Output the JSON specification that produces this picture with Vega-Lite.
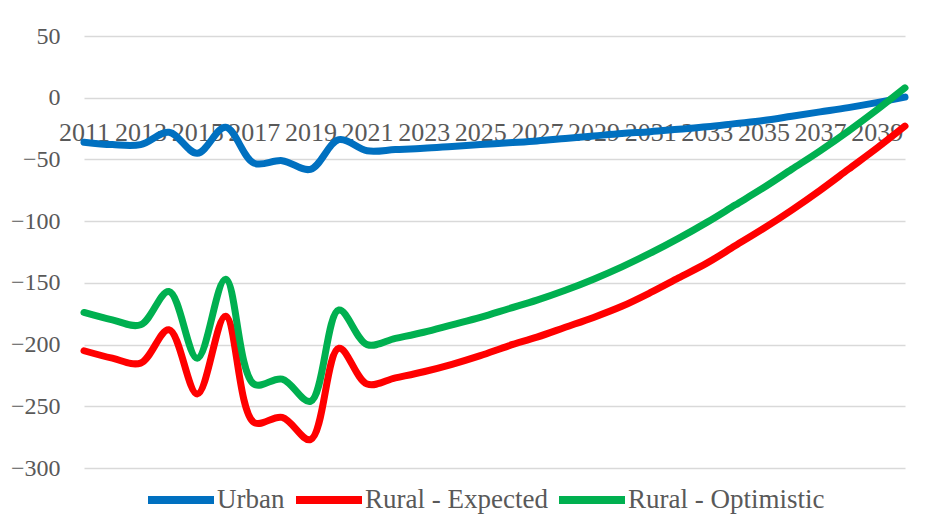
{
  "$schema": "https://vega.github.io/schema/vega-lite/v6.json",
  "width": 821,
  "height": 432,
  "autosize": {"type": "none"},
  "padding": {"left": 84, "top": 36, "right": 37, "bottom": 58},
  "background": "white",
  "config": {
    "view": {"stroke": null},
    "font": "Liberation Serif",
    "axis": {"labelFont": "Liberation Serif", "labelColor": "#595959"},
    "legend": {"labelFont": "Liberation Serif", "labelColor": "#595959"}
  },
  "data": {
    "values": [
      {"year": 2011, "series": "Urban", "value": -36},
      {"year": 2012, "series": "Urban", "value": -38},
      {"year": 2013, "series": "Urban", "value": -38},
      {"year": 2014, "series": "Urban", "value": -28},
      {"year": 2015, "series": "Urban", "value": -45},
      {"year": 2016, "series": "Urban", "value": -24},
      {"year": 2017, "series": "Urban", "value": -53},
      {"year": 2018, "series": "Urban", "value": -51},
      {"year": 2019, "series": "Urban", "value": -58},
      {"year": 2020, "series": "Urban", "value": -34},
      {"year": 2021, "series": "Urban", "value": -43},
      {"year": 2022, "series": "Urban", "value": -42},
      {"year": 2023, "series": "Urban", "value": -41},
      {"year": 2024, "series": "Urban", "value": -39.5},
      {"year": 2025, "series": "Urban", "value": -38},
      {"year": 2026, "series": "Urban", "value": -36.5},
      {"year": 2027, "series": "Urban", "value": -35},
      {"year": 2028, "series": "Urban", "value": -33},
      {"year": 2029, "series": "Urban", "value": -31},
      {"year": 2030, "series": "Urban", "value": -29},
      {"year": 2031, "series": "Urban", "value": -27.5},
      {"year": 2032, "series": "Urban", "value": -25.5},
      {"year": 2033, "series": "Urban", "value": -23.5},
      {"year": 2034, "series": "Urban", "value": -21},
      {"year": 2035, "series": "Urban", "value": -18.5},
      {"year": 2036, "series": "Urban", "value": -15},
      {"year": 2037, "series": "Urban", "value": -11.5},
      {"year": 2038, "series": "Urban", "value": -8},
      {"year": 2039, "series": "Urban", "value": -4},
      {"year": 2040, "series": "Urban", "value": 0.5},
      {"year": 2011, "series": "Rural - Expected", "value": -205},
      {"year": 2012, "series": "Rural - Expected", "value": -211},
      {"year": 2013, "series": "Rural - Expected", "value": -215},
      {"year": 2014, "series": "Rural - Expected", "value": -188},
      {"year": 2015, "series": "Rural - Expected", "value": -240},
      {"year": 2016, "series": "Rural - Expected", "value": -177},
      {"year": 2017, "series": "Rural - Expected", "value": -263},
      {"year": 2018, "series": "Rural - Expected", "value": -259},
      {"year": 2019, "series": "Rural - Expected", "value": -277},
      {"year": 2020, "series": "Rural - Expected", "value": -203},
      {"year": 2021, "series": "Rural - Expected", "value": -232},
      {"year": 2022, "series": "Rural - Expected", "value": -227},
      {"year": 2023, "series": "Rural - Expected", "value": -222},
      {"year": 2024, "series": "Rural - Expected", "value": -216},
      {"year": 2025, "series": "Rural - Expected", "value": -209},
      {"year": 2026, "series": "Rural - Expected", "value": -201},
      {"year": 2027, "series": "Rural - Expected", "value": -194},
      {"year": 2028, "series": "Rural - Expected", "value": -186},
      {"year": 2029, "series": "Rural - Expected", "value": -178},
      {"year": 2030, "series": "Rural - Expected", "value": -169},
      {"year": 2031, "series": "Rural - Expected", "value": -158},
      {"year": 2032, "series": "Rural - Expected", "value": -146},
      {"year": 2033, "series": "Rural - Expected", "value": -134},
      {"year": 2034, "series": "Rural - Expected", "value": -120},
      {"year": 2035, "series": "Rural - Expected", "value": -106},
      {"year": 2036, "series": "Rural - Expected", "value": -91},
      {"year": 2037, "series": "Rural - Expected", "value": -75},
      {"year": 2038, "series": "Rural - Expected", "value": -58},
      {"year": 2039, "series": "Rural - Expected", "value": -41},
      {"year": 2040, "series": "Rural - Expected", "value": -23},
      {"year": 2011, "series": "Rural - Optimistic", "value": -174},
      {"year": 2012, "series": "Rural - Optimistic", "value": -180},
      {"year": 2013, "series": "Rural - Optimistic", "value": -184},
      {"year": 2014, "series": "Rural - Optimistic", "value": -157},
      {"year": 2015, "series": "Rural - Optimistic", "value": -211},
      {"year": 2016, "series": "Rural - Optimistic", "value": -147},
      {"year": 2017, "series": "Rural - Optimistic", "value": -232},
      {"year": 2018, "series": "Rural - Optimistic", "value": -228},
      {"year": 2019, "series": "Rural - Optimistic", "value": -246},
      {"year": 2020, "series": "Rural - Optimistic", "value": -172},
      {"year": 2021, "series": "Rural - Optimistic", "value": -200},
      {"year": 2022, "series": "Rural - Optimistic", "value": -195},
      {"year": 2023, "series": "Rural - Optimistic", "value": -190},
      {"year": 2024, "series": "Rural - Optimistic", "value": -184},
      {"year": 2025, "series": "Rural - Optimistic", "value": -178},
      {"year": 2026, "series": "Rural - Optimistic", "value": -171},
      {"year": 2027, "series": "Rural - Optimistic", "value": -164},
      {"year": 2028, "series": "Rural - Optimistic", "value": -156},
      {"year": 2029, "series": "Rural - Optimistic", "value": -147},
      {"year": 2030, "series": "Rural - Optimistic", "value": -137},
      {"year": 2031, "series": "Rural - Optimistic", "value": -126},
      {"year": 2032, "series": "Rural - Optimistic", "value": -114},
      {"year": 2033, "series": "Rural - Optimistic", "value": -101},
      {"year": 2034, "series": "Rural - Optimistic", "value": -87},
      {"year": 2035, "series": "Rural - Optimistic", "value": -73},
      {"year": 2036, "series": "Rural - Optimistic", "value": -58},
      {"year": 2037, "series": "Rural - Optimistic", "value": -43},
      {"year": 2038, "series": "Rural - Optimistic", "value": -27},
      {"year": 2039, "series": "Rural - Optimistic", "value": -10},
      {"year": 2040, "series": "Rural - Optimistic", "value": 8}
    ]
  },
  "mark": {"type": "line", "interpolate": "catmull-rom", "strokeWidth": 7, "strokeCap": "round", "strokeJoin": "round"},
  "encoding": {
    "x": {
      "field": "year",
      "type": "quantitative",
      "scale": {"domain": [2011, 2040], "nice": false, "zero": false},
      "axis": {
        "title": null,
        "values": [2011, 2013, 2015, 2017, 2019, 2021, 2023, 2025, 2027, 2029, 2031, 2033, 2035, 2037, 2039],
        "format": "d",
        "offset": -370,
        "grid": false,
        "domain": false,
        "ticks": false,
        "tickSize": 0,
        "labelPadding": 21,
        "labelFontSize": 26,
        "labelOverlap": false,
        "labelFlush": false,
        "labelBound": false
      }
    },
    "y": {
      "field": "value",
      "type": "quantitative",
      "scale": {"domain": [-300, 50], "nice": false, "zero": false},
      "axis": {
        "title": null,
        "values": [-300, -250, -200, -150, -100, -50, 0, 50],
        "domain": false,
        "ticks": false,
        "tickSize": 0,
        "labelPadding": 24,
        "labelFontSize": 24,
        "gridColor": "#d9d9d9",
        "gridWidth": 1.5
      }
    },
    "color": {
      "field": "series",
      "type": "nominal",
      "scale": {
        "domain": ["Urban", "Rural - Expected", "Rural - Optimistic"],
        "range": ["#0070C0", "#FF0000", "#00B050"]
      },
      "legend": {
        "title": null,
        "orient": "none",
        "direction": "horizontal",
        "legendX": 60,
        "legendY": 427,
        "symbolType": "stroke",
        "symbolSize": 4356,
        "symbolStrokeWidth": 8,
        "labelFontSize": 27,
        "labelLimit": 0,
        "labelOffset": -1,
        "columnPadding": -5
      }
    }
  }
}
